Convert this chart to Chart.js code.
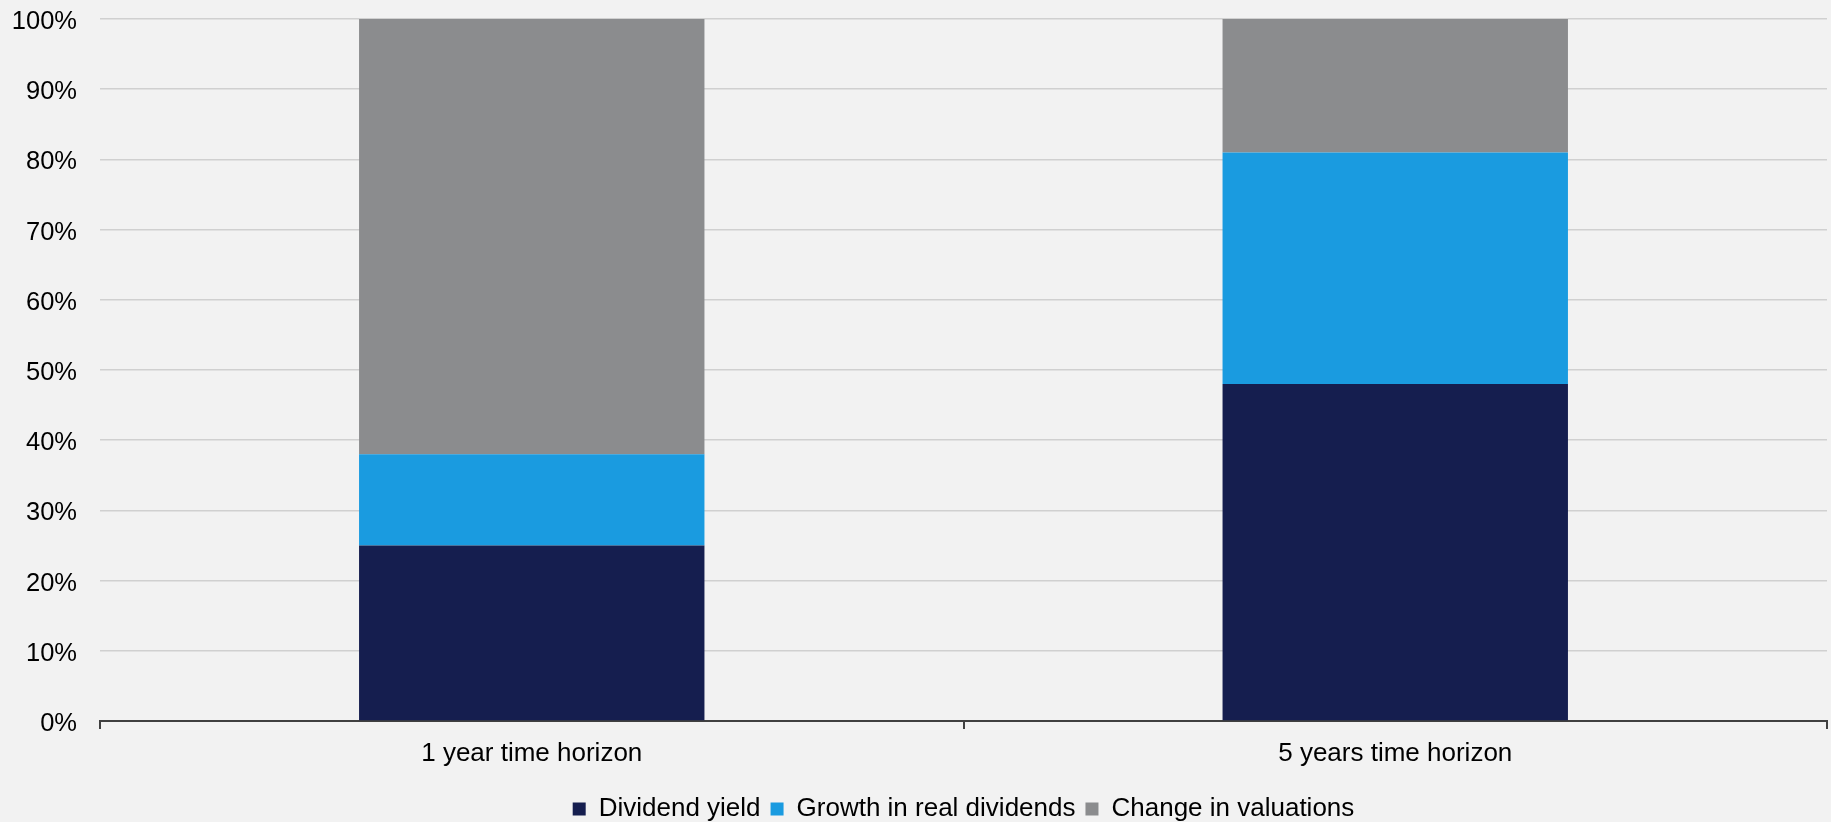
<!DOCTYPE html>
<html>
<head>
<meta charset="utf-8">
<script src="https://cdn.jsdelivr.net/npm/chart.js@4/dist/chart.umd.min.js"></script>
<style>
  html, body { margin: 0; padding: 0; background: #f2f2f2; }
  #wrap { width: 1831px; height: 822px; position: relative; }
</style>
</head>
<body>
<div id="wrap"><canvas id="chart"></canvas></div>
<script>
// Data
const categories = ['1 year time horizon', '5 years time horizon'];
const dividendYield = [25, 48];
const growthRealDividends = [13, 33];
const changeValuations = [62, 19];
const yTicks = [0, 10, 20, 30, 40, 50, 60, 70, 80, 90, 100];

const FONT = '"Liberation Sans", Arial, sans-serif';

const ctx = document.getElementById('chart').getContext('2d');
const chart = new Chart(ctx, {
    type: 'bar',
    data: {
        labels: categories,
        datasets: [
            {
                label: 'Dividend yield',
                data: dividendYield,
                backgroundColor: '#151e4f'
            },
            {
                label: 'Growth in real dividends',
                data: growthRealDividends,
                backgroundColor: '#1a9be0'
            },
            {
                label: 'Change in valuations',
                data: changeValuations,
                backgroundColor: '#8b8c8e'
            }
        ]
    },
    options: {
        responsive: true,
        maintainAspectRatio: false,
        animation: false,
        layout: {
            padding: { left: 12, right: 4, top: 19, bottom: -10 }
        },
        datasets: {
            bar: {
                categoryPercentage: 0.4,
                barPercentage: 1.0,
                borderWidth: 0
            }
        },
        scales: {
            x: {
                stacked: true,
                afterFit: (axis) => { axis.height = 65; },
                grid: {
                    offset: true,
                    drawOnChartArea: false,
                    drawTicks: true,
                    tickLength: 8,
                    color: '#404040',
                    lineWidth: 2
                },
                border: { display: true, color: '#404040', width: 2 },
                ticks: {
                    color: '#000',
                    padding: 9,
                    font: { family: FONT, size: 26 }
                }
            },
            y: {
                stacked: true,
                min: 0,
                max: 100,
                afterFit: (axis) => { axis.width = 88; },
                afterBuildTicks: (axis) => {
                    axis.ticks = yTicks.map(v => ({ value: v }));
                },
                grid: {
                    color: '#d0d0d0',
                    lineWidth: 1.5,
                    // invisible tick marks just to push the labels left
                    drawTicks: true,
                    tickLength: 23,
                    tickColor: 'rgba(0,0,0,0)'
                },
                border: { display: false },
                ticks: {
                    color: '#000',
                    padding: 0,
                    labelOffset: 3,
                    font: { family: FONT, size: 25.5 },
                    callback: (v) => v + '%'
                }
            }
        },
        plugins: {
            legend: {
                position: 'bottom',
                fullSize: false, // centre it under the plot area, not the canvas
                labels: {
                    color: '#000',
                    boxWidth: 13,
                    boxHeight: 13,
                    padding: 10,
                    font: { family: FONT, size: 26 }
                }
            },
            tooltip: { enabled: false }
        }
    }
});
</script>
</body>
</html>
